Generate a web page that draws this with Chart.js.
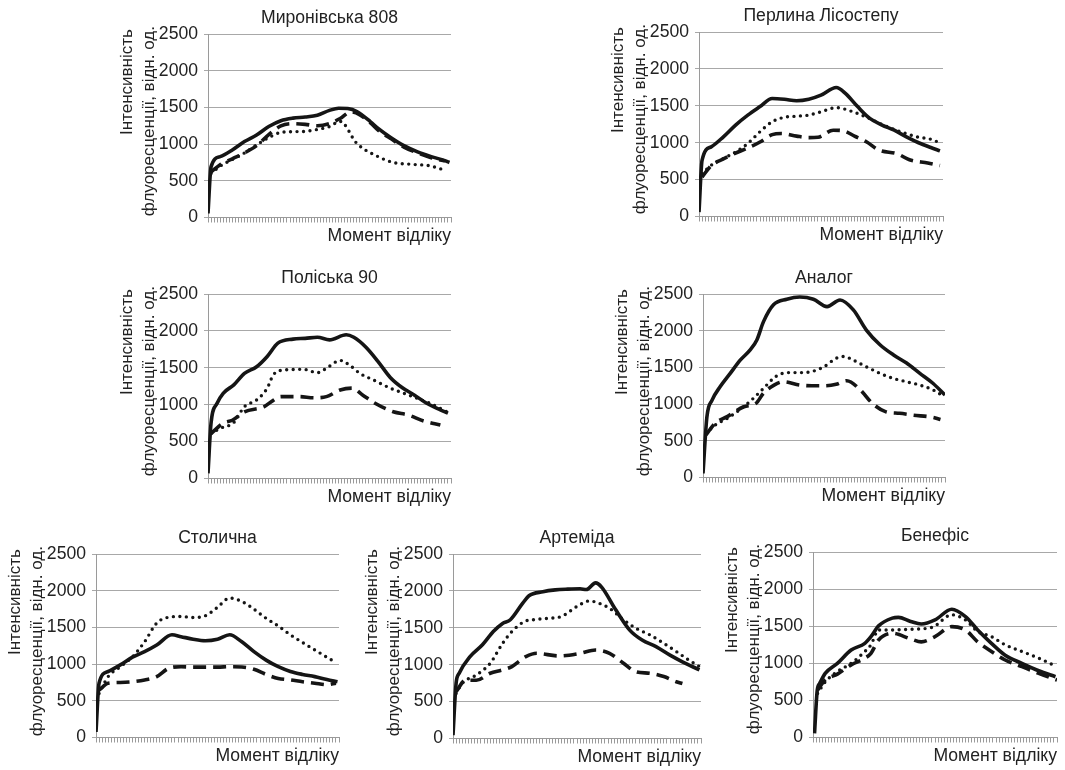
<!DOCTYPE html>
<html>
<head>
<meta charset="utf-8">
<title>Інтенсивність флуоресценції</title>
<script src="https://cdn.jsdelivr.net/npm/chart.js@4"></script>
<style>
    body { margin: 0; width: 1065px; height: 770px; background: #fff; position: relative; overflow: hidden; }
    canvas { position: absolute; }
</style>
</head>
<body>
<canvas id="c1"></canvas>
<canvas id="c2"></canvas>
<canvas id="c3"></canvas>
<canvas id="c4"></canvas>
<canvas id="c5"></canvas>
<canvas id="c6"></canvas>
<canvas id="c7"></canvas>
<script>
// Підписи
const chartTitles = ['Миронівська 808', 'Перлина Лісостепу', 'Поліська 90', 'Аналог', 'Столична', 'Артеміда', 'Бенефіс'];
const yTicks = [0, 500, 1000, 1500, 2000, 2500];
const yTitle = ['Інтенсивність', 'флуоресценції, відн. од.'];
const xTitle = 'Момент відліку';
const xRange = [0, 80]; // моменти відліку

// Дані: [момент відліку, інтенсивність]
const mironivskaSolid = [[0,55],[1,690],[4,830],[8,920],[12,1035],[16,1125],[20,1240],[24,1320],[28,1355],[32,1370],[36,1395],[40,1460],[43,1490],[46,1485],[49,1445],[53.5,1305],[56,1215],[60,1095],[64.5,980],[69,895],[73.5,830],[78,775],[79.5,750]];
const mironivskaDotted = [[1,600],[4,700],[8,790],[12,880],[16,990],[20,1090],[24,1160],[28,1170],[32,1175],[36,1200],[40,1240],[43.5,1310],[49,1010],[56,830],[61,750],[67,725],[73,705],[78,645]];
const mironivskaDashed = [[1,620],[4,720],[8,800],[12,880],[16,980],[20,1130],[24,1250],[28,1280],[32,1270],[36,1250],[40,1280],[43.5,1350],[47,1440],[50,1400],[53.5,1290],[56,1190],[60,1080],[64.5,960],[69,880],[73.5,815],[78,770]];

const perlynaSolid = [[0,60],[1,760],[4,945],[8,1080],[12,1240],[16,1375],[20,1490],[24,1600],[28,1590],[32,1570],[36,1590],[40,1645],[45,1750],[48,1670],[52,1490],[56,1330],[60,1240],[64,1170],[68,1080],[72,1000],[76,935],[79,890]];
const perlynaDotted = [[1,580],[4,695],[8,785],[12,875],[16,990],[20,1150],[24,1285],[28,1345],[32,1360],[36,1375],[40,1420],[45,1475],[50.5,1420],[55,1345],[60.5,1240],[66,1150],[71.5,1080],[77,1035],[79,990]];
const perlynaDashed = [[1,535],[4,690],[8,780],[12,860],[16,930],[20,1010],[24,1110],[27,1125],[32,1090],[36,1070],[39,1075],[44,1170],[47,1165],[51,1090],[55,1010],[59,900],[65,850],[69,770],[75,725],[79,690]];

const poliskaSolid = [[0,70],[1,750],[3,1020],[5,1155],[8.5,1270],[12,1425],[16,1515],[19.5,1655],[23,1835],[28,1890],[32,1900],[36,1915],[40,1880],[45.5,1950],[48,1915],[52,1780],[56,1585],[60,1370],[64,1230],[68,1130],[72,1020],[76,940],[79,885]];
const poliskaDotted = [[1,610],[4,680],[8.5,760],[12,975],[16,1065],[19.5,1225],[21.5,1405],[25,1470],[31.5,1480],[36,1435],[39,1495],[43.5,1600],[47,1525],[50,1425],[54.5,1335],[60,1225],[64.5,1155],[69,1085],[73,1020],[77.5,930],[79.5,885]];
const poliskaDashed = [[1,610],[5,750],[8,790],[12,905],[18.5,975],[21.5,1060],[24,1110],[30,1110],[35,1095],[39,1110],[43.5,1200],[47.5,1225],[51,1130],[55,1020],[61,905],[66,860],[71,780],[76.5,725]];

const analogSolid = [[0,55],[1.3,830],[3,1055],[5.7,1240],[9,1420],[12.3,1600],[15.6,1740],[17.8,1875],[20,2125],[23.3,2355],[27.7,2430],[32,2460],[36.5,2430],[41,2330],[45.3,2420],[49.7,2285],[54,2010],[58.5,1810],[63,1670],[67.3,1560],[71.7,1420],[76,1285],[80,1125]];
const analogDotted = [[1,600],[4,715],[8,805],[12,920],[16,1055],[20,1215],[24,1375],[28,1430],[32,1430],[36,1445],[40,1510],[44,1625],[46.5,1650],[49.7,1600],[54,1510],[58.5,1420],[63,1350],[67.3,1305],[71.7,1260],[76,1195],[79.5,1110]];
const analogDashed = [[1,580],[4,740],[8,830],[13.5,965],[17.5,1010],[20,1150],[23.5,1260],[26.5,1305],[32,1260],[36,1250],[40,1250],[44,1270],[47.5,1320],[52,1195],[56,1010],[60.5,895],[65,875],[69.5,850],[76,820],[78.5,790]];

const stolychnaSolid = [[0,75],[1,740],[4,900],[8,990],[12,1095],[16,1170],[20,1260],[25,1400],[28,1375],[32,1340],[36,1320],[40,1340],[44,1400],[48,1305],[52,1170],[56,1055],[60,965],[64,900],[68,860],[72,830],[76,790],[79.5,760]];
const stolychnaDotted = [[1,600],[4,830],[8,965],[12,1100],[16,1305],[20,1560],[24,1640],[28,1650],[32,1635],[36,1660],[40,1775],[44,1900],[48,1855],[52,1750],[56,1625],[60,1520],[64,1400],[68,1295],[72,1195],[76,1095],[79,1020]];
const stolychnaDashed = [[1,645],[4,740],[8,750],[12,760],[16,785],[20,830],[24,945],[28,965],[32,960],[36,960],[40,960],[44,965],[48,960],[52,930],[56,860],[60,805],[64,785],[68,760],[72,740],[76,720],[79,740]];

const artemidaSolid = [[0,45],[1,750],[2,885],[5.5,1110],[9.5,1270],[13,1450],[16,1560],[18.5,1610],[22.5,1835],[24.5,1935],[29,1990],[33,2015],[37,2025],[41,2030],[43,2020],[46,2110],[48,2050],[52.5,1745],[57,1470],[61,1335],[65.5,1245],[70,1130],[74,1040],[79.5,930]];
const artemidaDotted = [[1,610],[3,750],[7.5,860],[12,1020],[16,1290],[19,1450],[23,1585],[27,1615],[31,1630],[35,1655],[40,1790],[44,1865],[47,1835],[50.5,1765],[55,1610],[59,1495],[63.5,1405],[68,1290],[72,1180],[76,1065],[79.5,975]];
const artemidaDashed = [[1,635],[4,790],[7.5,790],[12,885],[16,930],[19,975],[23.5,1110],[27,1155],[34,1120],[41,1155],[46,1200],[50.5,1155],[55,1020],[59,905],[63.5,885],[68,840],[72,770],[74,745]];

const benefisSolid = [[0.5,55],[1.4,640],[2.2,730],[4,865],[8,1000],[12.5,1180],[17,1270],[19,1360],[21.5,1505],[26,1610],[28,1620],[32,1565],[35.5,1530],[40,1585],[45.5,1730],[50,1630],[54,1450],[58.5,1270],[63,1110],[68.5,1000],[74,900],[79.5,820]];
const benefisDotted = [[1.5,595],[4,750],[8,890],[12.5,1000],[17,1160],[19,1250],[21.5,1450],[26,1450],[32,1460],[39,1485],[45.5,1655],[50,1585],[54,1430],[58.5,1360],[63,1250],[68.5,1160],[74,1070],[80,955]];
const benefisDashed = [[1.5,640],[4,775],[8,855],[12.5,980],[17,1070],[19,1135],[21.5,1315],[26,1405],[32,1330],[35.5,1290],[40,1360],[45.5,1495],[50,1450],[54,1290],[58.5,1160],[63,1045],[68.5,955],[74,865],[80,775]];

// Розміщення панелей (ліва/верхня межа області графіка, ширина, висота)
const panels = [
    { id: 'c1', series: [mironivskaSolid, mironivskaDotted, mironivskaDashed], left: 208, top: 34, w: 243, h: 183 },
    { id: 'c2', series: [perlynaSolid, perlynaDotted, perlynaDashed], left: 699, top: 32, w: 244, h: 184 },
    { id: 'c3', series: [poliskaSolid, poliskaDotted, poliskaDashed], left: 208, top: 294, w: 243, h: 184 },
    { id: 'c4', series: [analogSolid, analogDotted, analogDashed], left: 703, top: 294, w: 242, h: 183 },
    { id: 'c5', series: [stolychnaSolid, stolychnaDotted, stolychnaDashed], left: 96, top: 554, w: 243, h: 183 },
    { id: 'c6', series: [artemidaSolid, artemidaDotted, artemidaDashed], left: 453, top: 554, w: 248, h: 184 },
    { id: 'c7', series: [benefisSolid, benefisDotted, benefisDashed], left: 813, top: 552, w: 244, h: 185 }
];

const Y_AXIS_W = 92;
const X_AXIS_H = 29.5;
const TITLE_H = 26;
const PAD_R = 4;
const FONT_SIZE = 17.6;
const Y_TITLE_SIZE = 17;
const FONT_FAMILY = '"Liberation Sans", Arial, sans-serif';
const INK = '#151515';
const TEXT = '#222';
const GRID = '#a8a8a8';
const AXIS = '#9a9a9a';

const lineStyles = [
    { borderWidth: 3.6 },
    { borderWidth: 3.4, borderDash: [0, 6.5], borderCapStyle: 'round' },
    { borderWidth: 3.6, borderDash: [13, 7] }
];

Chart.defaults.font.family = FONT_FAMILY;
Chart.defaults.font.size = FONT_SIZE;
Chart.defaults.color = TEXT;

// Двострокова назва осі Y, що виходить трохи вище за область графіка (як в оригіналі)
const yTitlePlugin = {
    id: 'yTitleLines',
    afterDraw(chart) {
        const { ctx, chartArea } = chart;
        ctx.save();
        ctx.font = `${Y_TITLE_SIZE}px ${FONT_FAMILY}`;
        ctx.fillStyle = TEXT;
        ctx.textAlign = 'right';
        ctx.textBaseline = 'middle';
        ctx.translate(chartArea.left - 81, chartArea.top - 8);
        ctx.rotate(-Math.PI / 2);
        yTitle.forEach((line, n) => ctx.fillText(line, n === 0 ? -3 : 0, n * 22));
        ctx.restore();
    }
};

panels.forEach((p, i) => {
    const canvas = document.getElementById(p.id);
    canvas.width = Math.round(Y_AXIS_W + p.w + PAD_R);
    canvas.height = Math.round(TITLE_H + p.h + X_AXIS_H);
    canvas.style.left = (p.left - Y_AXIS_W) + 'px';
    canvas.style.top = Math.round(p.top - TITLE_H) + 'px';

    new Chart(canvas.getContext('2d'), {
        type: 'line',
        data: {
            datasets: p.series.map((data, k) => ({
                data: data,
                borderColor: INK,
                backgroundColor: INK,
                pointRadius: 0,
                fill: false,
                cubicInterpolationMode: 'monotone',
                borderJoinStyle: 'round',
                ...lineStyles[k]
            }))
        },
        options: {
            responsive: false,
            animation: false,
            layout: { padding: { left: 0, right: PAD_R, top: 0, bottom: 0 } },
            plugins: {
                legend: { display: false },
                tooltip: { enabled: false },
                title: {
                    display: true,
                    text: chartTitles[i],
                    fullSize: false,
                    color: TEXT,
                    font: { size: FONT_SIZE, weight: 'normal', lineHeight: 1.2 },
                    padding: { top: 0, bottom: 5 }
                }
            },
            scales: {
                x: {
                    type: 'linear',
                    min: xRange[0],
                    max: xRange[1],
                    ticks: { display: false, stepSize: 1 },
                    grid: { drawOnChartArea: false, drawTicks: true, tickLength: 5, color: AXIS, lineWidth: 1 },
                    border: { display: true, color: AXIS },
                    title: {
                        display: true,
                        text: xTitle,
                        align: 'end',
                        color: TEXT,
                        font: { size: FONT_SIZE, lineHeight: 1.2 },
                        padding: 0
                    },
                    afterFit: (scale) => { scale.height = X_AXIS_H; }
                },
                y: {
                    min: yTicks[0],
                    max: yTicks[yTicks.length - 1],
                    ticks: {
                        stepSize: yTicks[1] - yTicks[0],
                        padding: 6,
                        color: TEXT,
                        font: { size: FONT_SIZE },
                        callback: (value) => String(value)
                    },
                    grid: { color: GRID, tickLength: 4, lineWidth: 1 },
                    border: { display: true, color: AXIS },
                    afterFit: (scale) => { scale.width = Y_AXIS_W; }
                }
            }
        },
        plugins: [yTitlePlugin]
    });
});
</script>
</body>
</html>
